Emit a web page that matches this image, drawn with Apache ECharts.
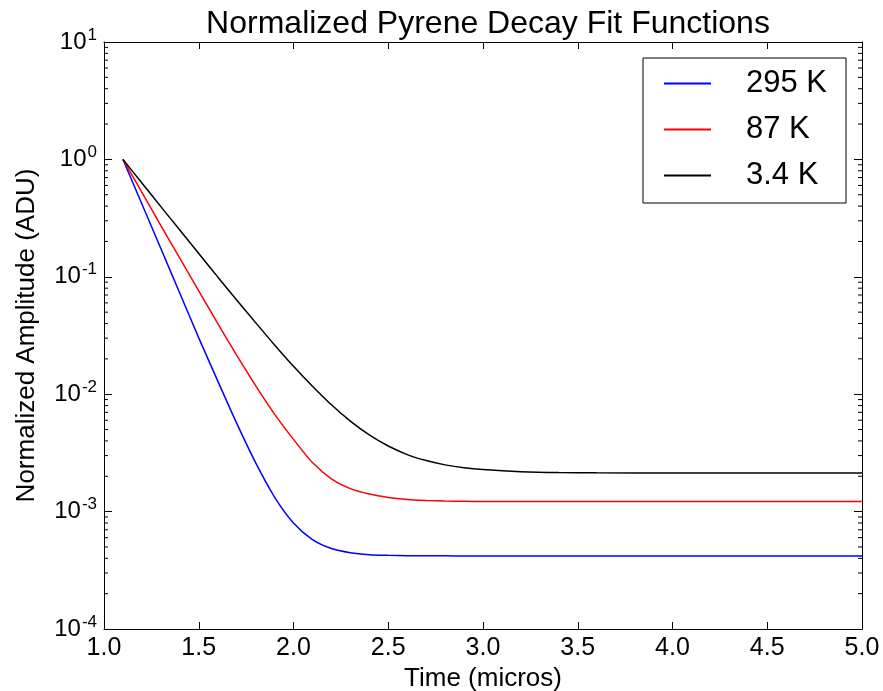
<!DOCTYPE html>
<html>
<head>
<meta charset="utf-8">
<script src="https://cdn.jsdelivr.net/npm/echarts@6/dist/echarts.min.js"></script>
<style>
html,body{margin:0;padding:0;background:#fff;}
#chart{width:883px;height:691px;}
</style>
</head>
<body>
<div id="chart"></div>
<script>
// Time (micros)
const timeValues = [1.1,1.2,1.3,1.4,1.5,1.6,1.7,1.8,1.9,2.0,2.1,2.2,2.3,2.4,2.5,2.6,2.7,2.8,2.9,3.0,3.2,3.4,3.6,4.0,4.5,5.0];
// Normalized amplitudes
const amp295K = [1.0,0.417,0.174,0.0724,0.0302,0.0130,0.00567,0.00261,0.00133,0.000799,0.000577,0.000485,0.000447,0.000430,0.000424,0.000421,0.000420,0.000420,0.000419,0.000419,0.000419,0.000419,0.000419,0.000419,0.000419,0.000419];
const amp87K = [1.0,0.524,0.273,0.144,0.0757,0.0401,0.0215,0.01184,0.00677,0.00412,0.00262,0.00190,0.00157,0.00141,0.00132,0.00127,0.001245,0.00123,0.001225,0.00122,0.00122,0.00122,0.00122,0.00122,0.00122,0.00122];
const amp3p4K = [1.0,0.630,0.396,0.250,0.158,0.0998,0.0635,0.0407,0.0263,0.0173,0.0117,0.00813,0.00590,0.00450,0.00362,0.00306,0.00272,0.00250,0.00236,0.00228,0.00219,0.00215,0.00214,0.00213,0.00213,0.00213];
const seriesNames = ['295 K','87 K','3.4 K'];
const seriesColors = ['#0000ff','#ff0000','#000000'];

const minorVals = [];
for (let d = -4; d < 1; d++) {
  for (let m = 2; m <= 9; m++) minorVals.push([1.0, m * Math.pow(10, d)]);
}

const font = "'Liberation Sans', Arial, sans-serif";
const chart = echarts.init(document.getElementById('chart'));

function pairs(arr) { return timeValues.map((t, i) => [t, arr[i]]); }

const yLabelFmt = function (v) {
  const e = Math.round(Math.log10(v));
  return '{b|10}{s|' + e + '}';
};

function lineSeries(i, arr) {
  return {
    name: seriesNames[i], type: 'line', data: pairs(arr), symbol: 'none', smooth: 0.25,
    lineStyle: { color: seriesColors[i], width: 1.5 }, itemStyle: { color: seriesColors[i] }
  };
}

chart.setOption({
  animation: false,
  backgroundColor: '#ffffff',
  title: {
    text: 'Normalized Pyrene Decay Fit Functions',
    left: 483, textAlign: 'center', top: 3,
    textStyle: { fontFamily: font, fontSize: 32, fontWeight: 'normal', color: '#000' }
  },
  grid: { left: 104, top: 42, right: 21, bottom: 62, containLabel: false, outerBoundsMode: 'none' },
  legend: {
    data: seriesNames,
    orient: 'vertical',
    left: 643, top: 58,
    padding: [10, 19, 12, 21],
    icon: 'rect',
    itemWidth: 47, itemHeight: 2, itemGap: 15,
    borderColor: '#000', borderWidth: 1,
    backgroundColor: '#fff',
    textStyle: { fontFamily: font, fontSize: 31, color: '#000', padding: [0, 0, 0, 30] }
  },
  xAxis: [{
    type: 'value', min: 1.0, max: 5.0, interval: 0.5,
    name: 'Time (micros)', nameLocation: 'middle', nameGap: 34,
    nameTextStyle: { fontFamily: font, fontSize: 26, color: '#000' },
    axisLine: { show: true, lineStyle: { color: '#000', width: 1 } },
    axisTick: { show: true, inside: true, length: 7, lineStyle: { color: '#000' } },
    axisLabel: { fontFamily: font, fontSize: 25, color: '#000', margin: 7, formatter: v => v.toFixed(1) },
    splitLine: { show: false }
  }, {
    type: 'value', min: 1.0, max: 5.0, interval: 0.5, position: 'top',
    axisLine: { show: true, lineStyle: { color: '#000', width: 1 } },
    axisTick: { show: true, inside: true, length: 7, lineStyle: { color: '#000' } },
    axisLabel: { show: false }, splitLine: { show: false }
  }],
  yAxis: [{
    type: 'log', logBase: 10, min: 1e-4, max: 10,
    name: 'Normalized Amplitude (ADU)', nameLocation: 'middle', nameGap: 64,
    nameTextStyle: { fontFamily: font, fontSize: 26, color: '#000' },
    axisLine: { show: true, lineStyle: { color: '#000', width: 1 } },
    axisTick: { show: true, inside: true, length: 8, lineStyle: { color: '#000' } },
    axisLabel: {
      margin: 7, formatter: yLabelFmt,
      rich: {
        b: { fontFamily: font, fontSize: 24, color: '#000' },
        s: { fontFamily: font, fontSize: 17, color: '#000', padding: [0, 0, 14, 1] }
      }
    },
    splitLine: { show: false }
  }, {
    type: 'log', logBase: 10, min: 1e-4, max: 10, position: 'right',
    axisLine: { show: true, lineStyle: { color: '#000', width: 1 } },
    axisTick: { show: true, inside: true, length: 8, lineStyle: { color: '#000' } },
    axisLabel: { show: false }, splitLine: { show: false }
  }],
  series: [
    lineSeries(0, amp295K),
    lineSeries(1, amp87K),
    lineSeries(2, amp3p4K),
    { name: 'minorTicks', type: 'custom', silent: true, data: minorVals, z: 1,
      renderItem: function (params, api) {
        const y = api.coord([1.0, api.value(1)])[1];
        const cs = params.coordSys;
        const st = { stroke: '#000', lineWidth: 1 };
        return { type: 'group', children: [
          { type: 'line', shape: { x1: cs.x, y1: y, x2: cs.x + 4, y2: y }, style: st },
          { type: 'line', shape: { x1: cs.x + cs.width, y1: y, x2: cs.x + cs.width - 4, y2: y }, style: st }
        ]};
      }
    }
  ]
});
</script>
</body>
</html>
